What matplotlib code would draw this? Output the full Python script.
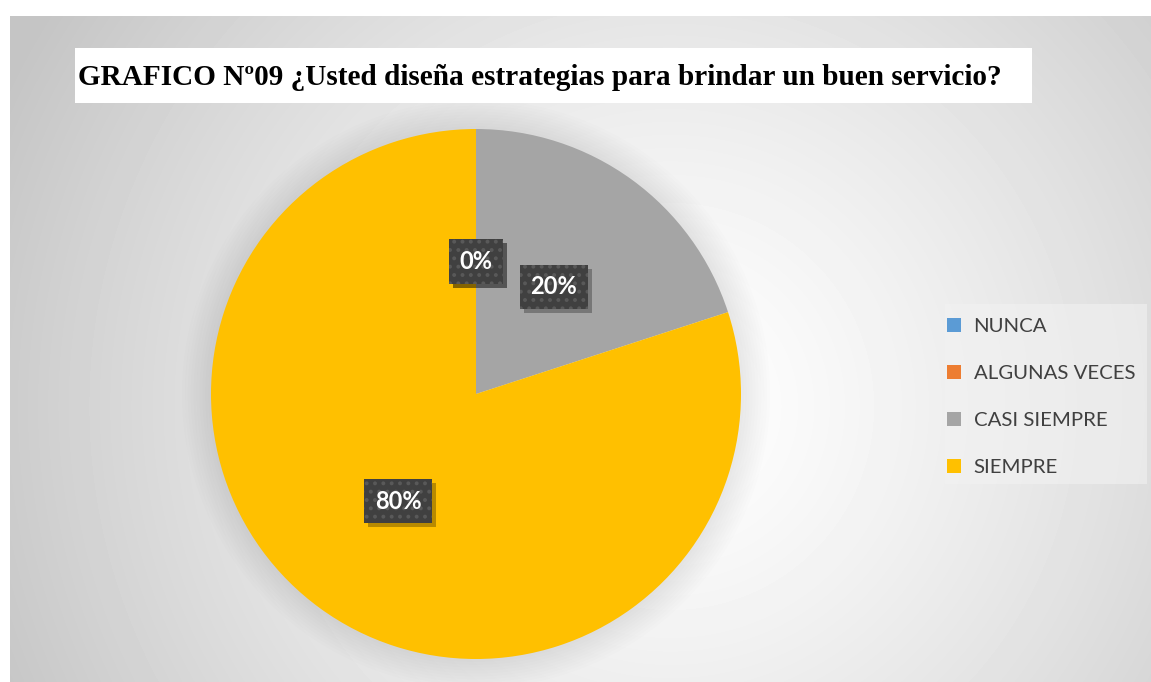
import numpy as np
import matplotlib
matplotlib.use("Agg")
import matplotlib.pyplot as plt
from matplotlib.patches import Patch, Circle, Rectangle

# ── Datos ─────────────────────────────────────────────────────────────────────
categorias = ["NUNCA", "ALGUNAS VECES", "CASI SIEMPRE", "SIEMPRE"]
porcentajes = [0, 0, 20, 80]
colores = ["#5B9BD5", "#ED7D31", "#A5A5A5", "#FFC000"]
titulo = "GRAFICO Nº09 ¿Usted diseña estrategias para brindar un buen servicio?"

W, H = 1151, 682
plt.rcParams["hatch.linewidth"] = 1.6

fig = plt.figure(figsize=(W / 100, H / 100), dpi=100)

# ── Fondo: degradado radial gris ──────────────────────────────────────────────
bw, bh = W - 10, H - 16
bg = fig.add_axes([10 / W, 0, bw / W, bh / H])
yy, xx = np.mgrid[0:bh, 0:bw]
d = np.hypot(xx - 660, yy - 390) / 740
grad = 1.0 - 0.23 * np.clip(d, 0, 1) ** 1.3
bg.imshow(grad, cmap="gray", vmin=0, vmax=1, aspect="auto", interpolation="bilinear")
bg.axis("off")

# ── Título en caja blanca ─────────────────────────────────────────────────────
fig.patches.append(Rectangle((75 / W, 1 - 103 / H), 957 / W, 55 / H,
                             transform=fig.transFigure, fc="white", ec="none", zorder=2))
fig.text(78 / W, 1 - 85 / H, titulo, family="Liberation Serif", fontweight="bold",
         fontsize=21.1, color="black", va="baseline", ha="left", zorder=3)

# ── Gráfico circular ─────────────────────────────────────────────────────────
cx, cy, r = 476, 394, 265
ax = fig.add_axes([(cx - r) / W, (H - cy - r) / H, 2 * r / W, 2 * r / H])
ax.axis("off")

# sombra difusa alrededor del círculo
for k in range(1, 11):
    ax.add_patch(Circle((0, 0), 1 + k * 0.011, fc="black", ec="none",
                        alpha=0.008, zorder=0, clip_on=False))

wedges, _, autotexts = ax.pie(
    porcentajes, colors=colores, startangle=90, counterclock=False,
    radius=1, autopct="%.0f%%", pctdistance=0.5,
    wedgeprops=dict(linewidth=0),
    textprops=dict(color="white", fontsize=17, fontweight="bold", family="Lato"),
)
ax.set_xlim(-1, 1)
ax.set_ylim(-1, 1)

for t in autotexts:
    t.set_zorder(5)
    t.set_bbox(dict(boxstyle="square,pad=0.45", fc="#404040", ec="#595959",
                    hatch="..", lw=0))

# sombra de las etiquetas: rectángulo desplazado bajo cada caja
fig.canvas.draw()
for t in autotexts:
    bb = t.get_bbox_patch().get_window_extent()
    ax.add_patch(Rectangle((bb.x0 + 4, bb.y0 - 4), bb.width, bb.height,
                           transform=None, fc="black", ec="none", alpha=0.28,
                           zorder=4))

# ── Leyenda ───────────────────────────────────────────────────────────────────
fig.patches.append(Rectangle((945 / W, 1 - 484 / H), 202 / W, 180 / H,
                             transform=fig.transFigure, fc="#f2f2f2", ec="none",
                             alpha=0.6, zorder=1))
handles = [Patch(fc=c, ec="none") for c in colores]
leg = fig.legend(handles, categorias, loc="upper left",
                 bbox_to_anchor=(947 / W, 1 - 318 / H), frameon=False,
                 prop=dict(family="Lato", size=14.7), labelcolor="#404040",
                 handlelength=0.7, handleheight=0.7, handletextpad=0.6,
                 labelspacing=1.45, borderpad=0, borderaxespad=0)

fig.savefig("out.png", dpi=100, facecolor="white")
